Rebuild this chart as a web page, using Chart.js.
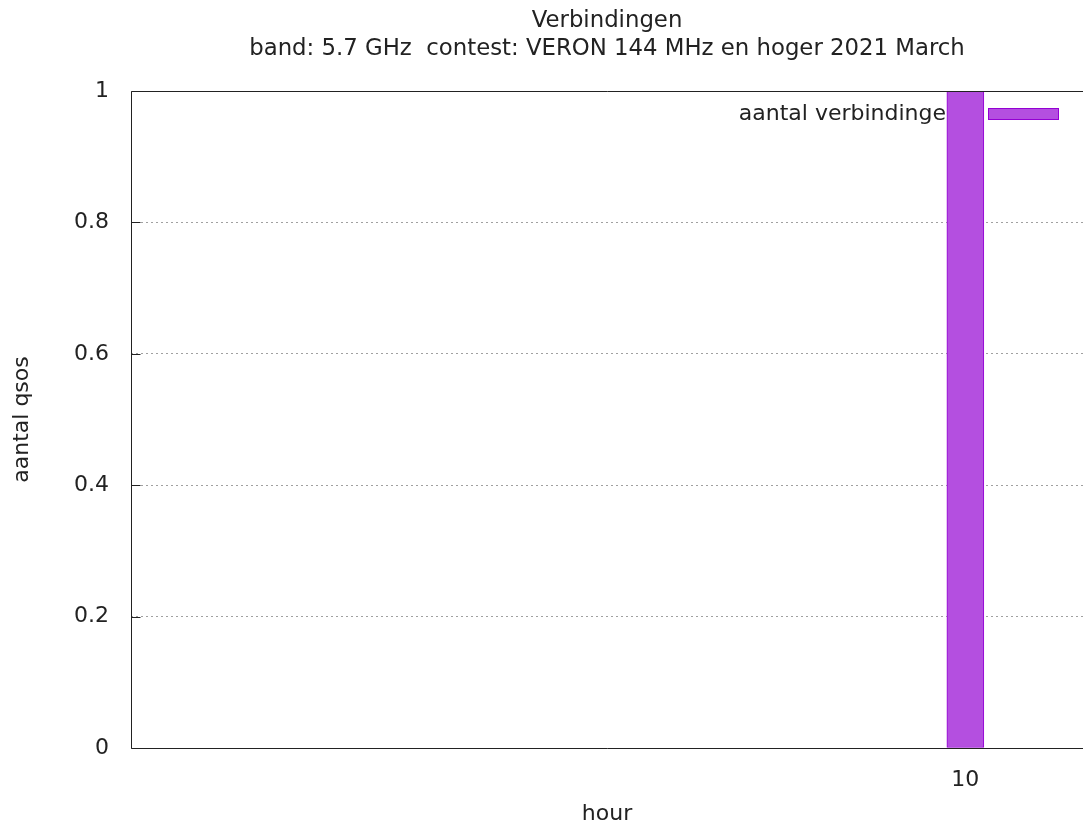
<!DOCTYPE html>
<html lang="nl">
<head>
<meta charset="UTF-8">
<title>Verbindingen</title>
<style>
    html, body { margin: 0; padding: 0; background: #fff; }
    #wrap { width: 1083px; height: 827px; }
</style>
<script src="https://cdn.jsdelivr.net/npm/chart.js"></script>
</head>
<body>
<div id="wrap"><canvas id="qsoChart" width="1083" height="827"></canvas></div>
<script>
const titleLines = ['Verbindingen', 'band: 5.7 GHz  contest: VERON 144 MHz en hoger 2021 March'];
const hours = [10];
const qsoCounts = [1];
const seriesLabel = 'aantal verbindingen';
const yTicks = [0, 0.2, 0.4, 0.6, 0.8, 1];
const xAxisLabel = 'hour';
const yAxisLabel = 'aantal qsos';

const FONT = "'DejaVu Sans', sans-serif";
const SIZE = 22;
const TEXT = '#222';
const FILL = '#b44fe0';
const EDGE = '#9400d3';

// gnuplot look: titles, frame, inward ticks and the key
const gnuplotBits = {
    id: 'gnuplotBits',
    beforeDatasetsDraw(chart) {
        const { ctx, chartArea: a } = chart;
        ctx.save();
        ctx.fillStyle = TEXT;
        ctx.font = '22.8px ' + FONT;
        ctx.textAlign = 'center';
        ctx.textBaseline = 'middle';
        const cx = (a.left + a.right) / 2;
        ctx.fillText(titleLines[0], cx, 21);
        ctx.fillText(titleLines[1], cx, 49);

        // key (text runs under the bar, like the original)
        ctx.font = SIZE + 'px ' + FONT;
        ctx.textAlign = 'right';
        ctx.fillText(seriesLabel, 960, 114);
        ctx.fillStyle = FILL;
        ctx.fillRect(988.5, 108.5, 70, 11);
        ctx.strokeStyle = EDGE;
        ctx.lineWidth = 1;
        ctx.strokeRect(988.5, 108.5, 70, 11);
        ctx.restore();
    },
    afterDatasetsDraw(chart) {
        const { ctx, chartArea: a, scales } = chart;
        ctx.save();
        ctx.strokeStyle = '#222';
        ctx.lineWidth = 1;
        ctx.beginPath();
        const l = Math.round(a.left) + 0.5, t = Math.round(a.top) + 0.5, b = Math.round(a.bottom) + 0.5;
        ctx.moveTo(a.right, t); ctx.lineTo(l, t); ctx.lineTo(l, b); ctx.lineTo(a.right, b);
        yTicks.forEach(v => {
            const y = Math.round(scales.y.getPixelForValue(v)) + 0.5;
            ctx.moveTo(l, y); ctx.lineTo(l + 9, y);
        });
        ctx.stroke();
        ctx.restore();
    }
};

new Chart(document.getElementById('qsoChart'), {
    type: 'bar',
    data: {
        datasets: [{
            label: seriesLabel,
            data: hours.map((h, i) => ({ x: h, y: qsoCounts[i] })),
            backgroundColor: FILL,
            borderColor: EDGE,
            borderWidth: 1,
            borderSkipped: false,
            barThickness: 37
        }]
    },
    options: {
        responsive: false,
        devicePixelRatio: 1,
        animation: false,
        layout: { padding: { top: 91, left: 0, right: 0, bottom: 0 } },
        plugins: {
            legend: { display: false },
            title: { display: false },
            tooltip: { enabled: false }
        },
        scales: {
            x: {
                type: 'linear',
                offset: false,
                min: 0,
                max: 11.41,
                afterBuildTicks: s => { s.ticks = hours.map(v => ({ value: v })); },
                afterFit: s => { s.height = 79; },
                grid: { display: false },
                border: { display: false },
                ticks: { color: TEXT, font: { family: FONT, size: SIZE }, padding: 11, maxRotation: 0 },
                title: { display: true, text: xAxisLabel, color: TEXT, font: { family: FONT, size: SIZE }, padding: { top: 0, bottom: 0 } }
            },
            y: {
                min: 0,
                max: 1,
                afterBuildTicks: s => { s.ticks = yTicks.map(v => ({ value: v })); },
                afterFit: s => { s.width = 131; },
                grid: {
                    drawTicks: false,
                    color: c => (c.tick && (c.tick.value === 0 || c.tick.value === 1)) ? 'rgba(0,0,0,0)' : '#a0a0a0'
                },
                border: { display: false, dash: [2, 3] },
                ticks: { color: TEXT, font: { family: FONT, size: SIZE }, padding: 22, callback: v => String(v) },
                title: { display: true, text: yAxisLabel, color: TEXT, font: { family: FONT, size: SIZE }, padding: { top: 9, bottom: 0 } }
            }
        }
    },
    plugins: [gnuplotBits]
});
</script>
</body>
</html>
